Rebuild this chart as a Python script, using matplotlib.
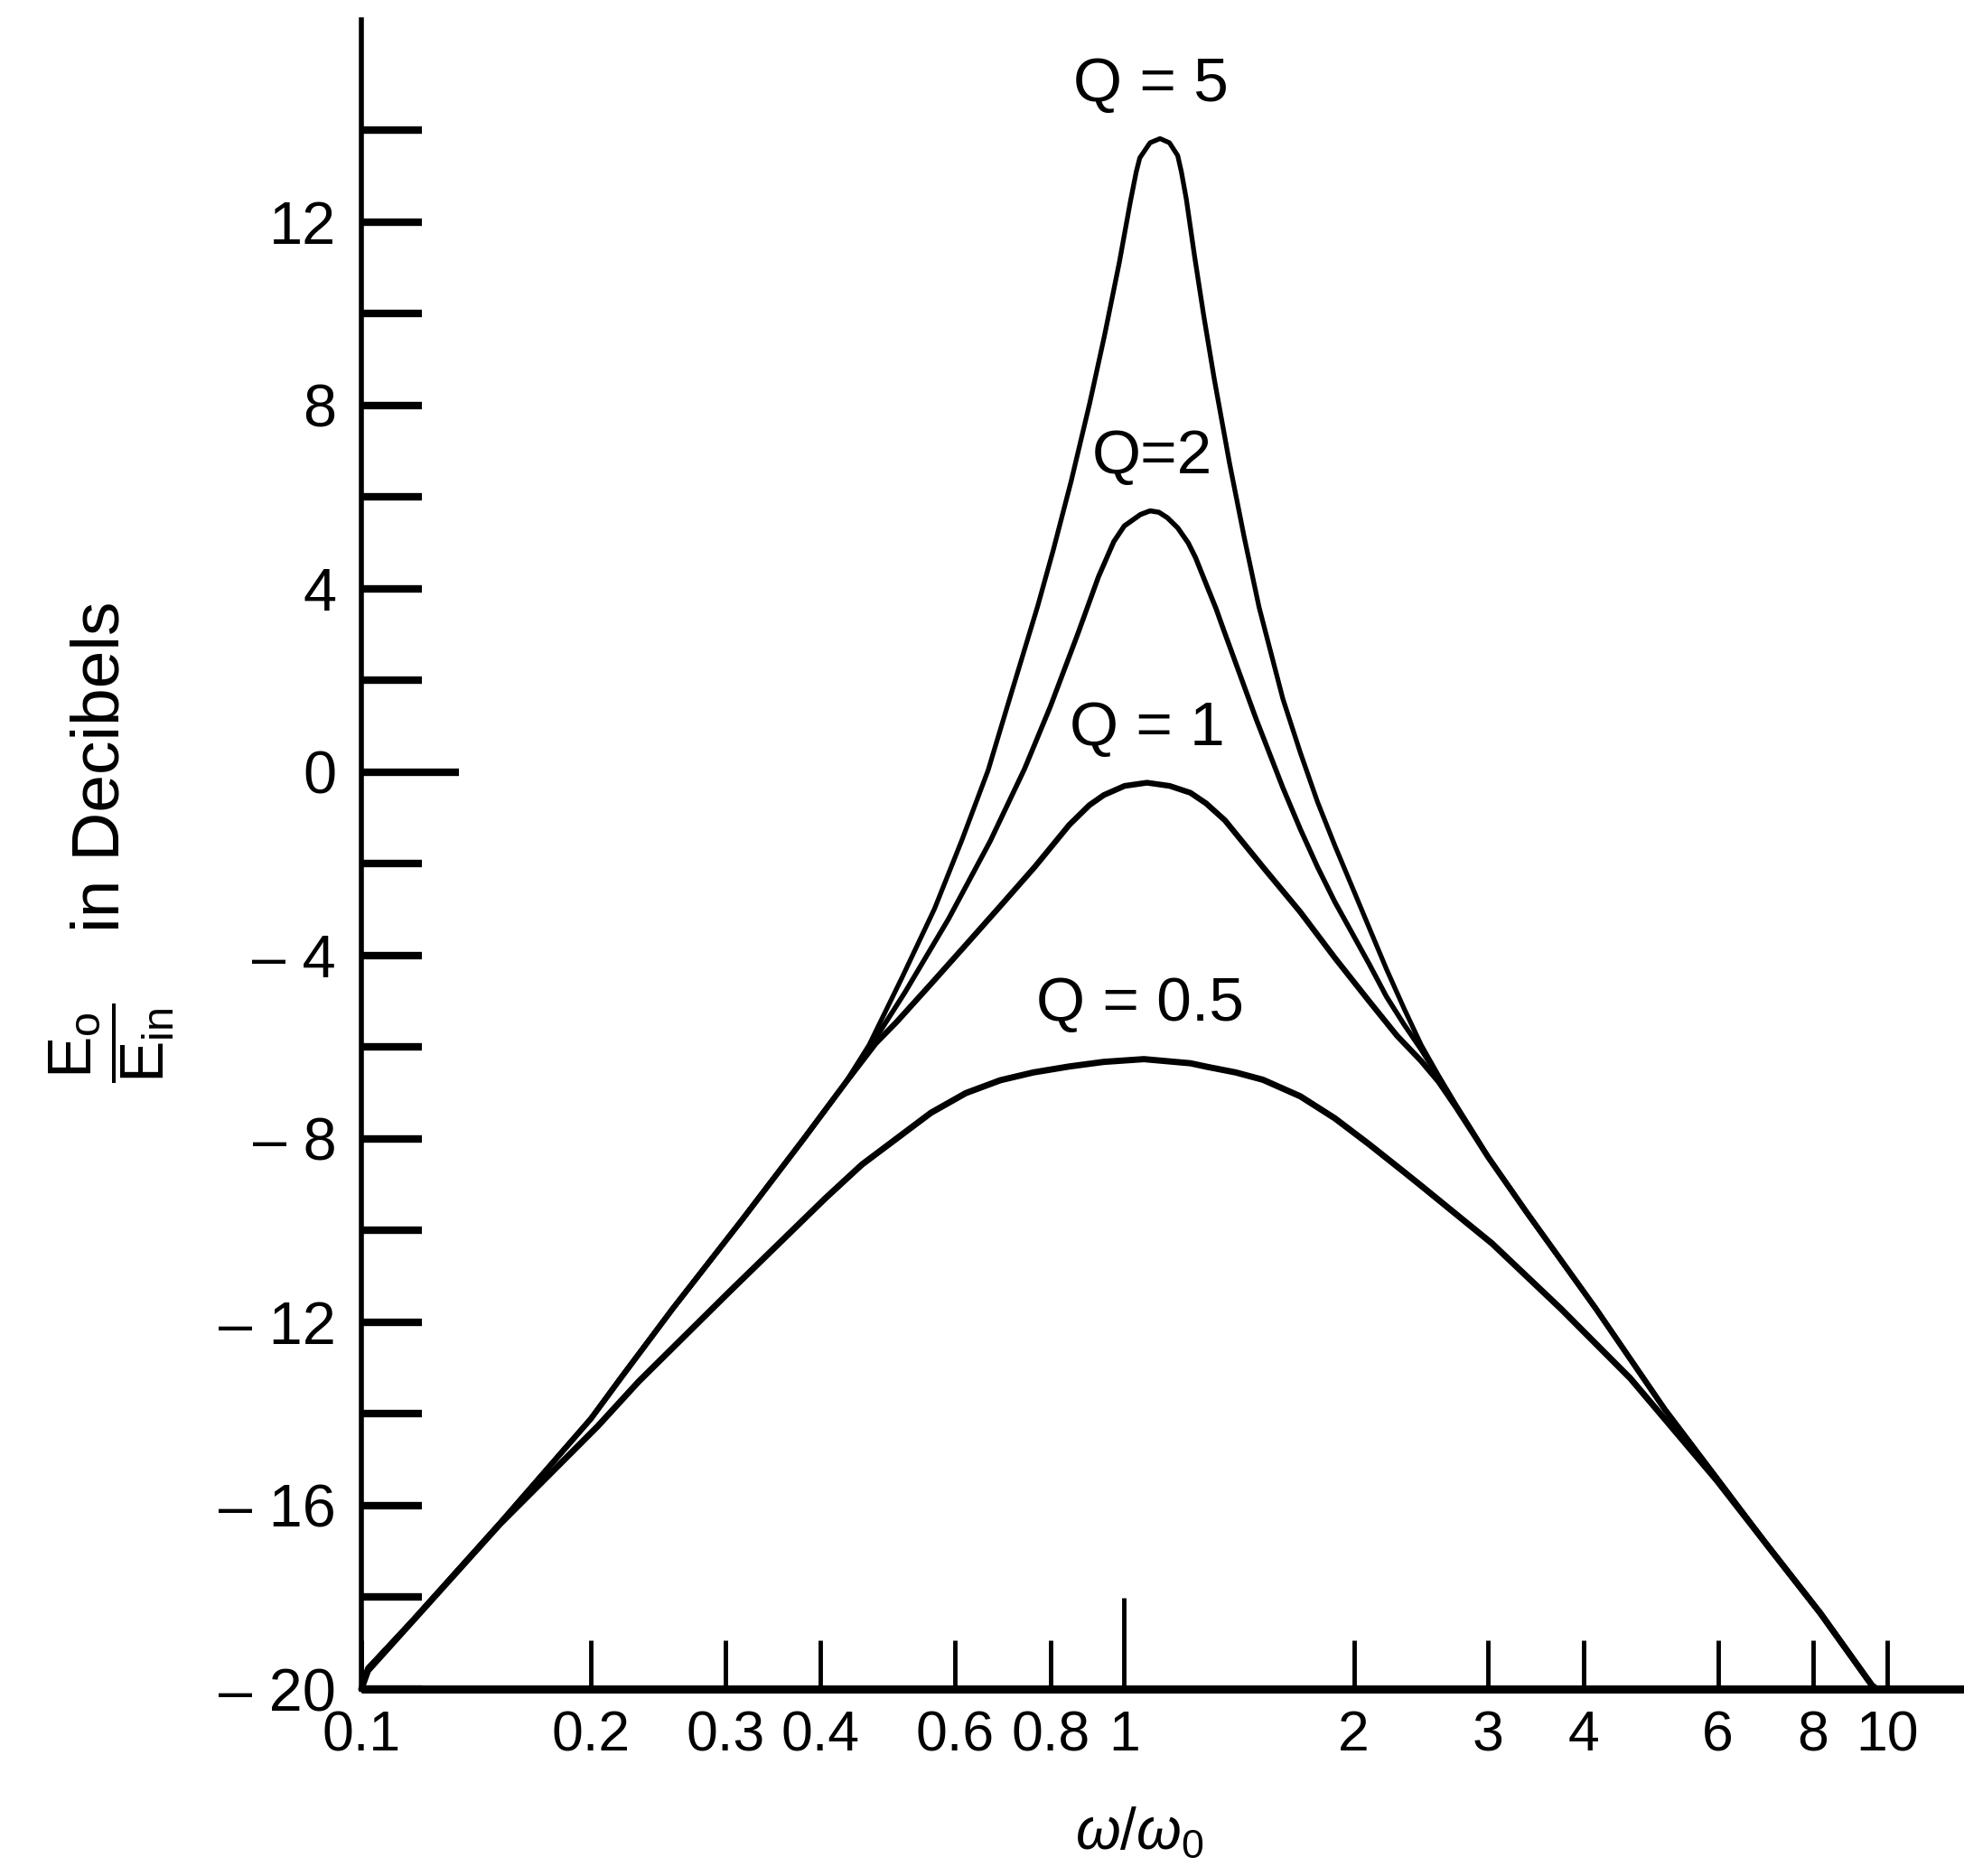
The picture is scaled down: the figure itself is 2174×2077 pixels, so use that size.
import matplotlib
matplotlib.use("Agg")
import matplotlib.pyplot as plt
from matplotlib.ticker import FixedLocator, FixedFormatter

plt.rcParams['font.family'] = ['Liberation Sans', 'DejaVu Sans']
plt.rcParams['mathtext.fontset'] = 'custom'
plt.rcParams['mathtext.rm'] = 'Liberation Sans'
plt.rcParams['mathtext.sf'] = 'Liberation Sans'
plt.rcParams['mathtext.it'] = 'Liberation Sans:italic'

# ---- data (omega/omega0, dB) ----
q5_x = [0.1, 0.102, 0.117, 0.152, 0.2, 0.219, 0.256, 0.316, 0.38, 0.43, 0.463, 0.511,
        0.564, 0.613, 0.663, 0.706, 0.770, 0.807, 0.852, 0.901, 0.942, 0.985, 1.019,
        1.037, 1.048, 1.081, 1.114, 1.146, 1.175, 1.188, 1.206, 1.236, 1.271, 1.312,
        1.374, 1.436, 1.502, 1.614, 1.701, 1.792, 1.888, 1.989, 2.095, 2.207,
        2.326, 2.45, 2.582, 2.72, 2.865, 3.0, 3.368, 4.15, 5.111, 5.979, 6.99, 8.177,
        9.561, 9.7]
q5_db = [-20, -19.55, -18.49, -16.38, -14.1, -13.2, -11.7, -9.75, -8.0, -6.8, -5.95, -4.49,
         -2.98, -1.47, 0.04, 1.55, 3.62, 4.84, 6.35, 8.05, 9.52, 11.11, 12.46,
         13.1, 13.4, 13.73, 13.82, 13.73, 13.45, 13.1, 12.5, 11.27, 9.96, 8.58,
         6.74, 5.13, 3.6, 1.6, 0.43, -0.65, -1.6, -2.5, -3.4, -4.3,
         -5.15, -5.95, -6.62, -7.25, -7.85, -8.4, -9.6, -11.7, -13.9, -15.4, -16.9, -18.35,
         -19.93, -20]

q2_x = [0.1, 0.102, 0.117, 0.152, 0.2, 0.219, 0.256, 0.316, 0.38, 0.43, 0.465, 0.516,
        0.588, 0.667, 0.740, 0.800, 0.868, 0.925, 0.969, 1.0, 1.05, 1.081, 1.11, 1.139,
        1.175, 1.213, 1.24, 1.265, 1.319, 1.350, 1.488, 1.614, 1.701, 1.792, 1.888, 1.989,
        2.095, 2.207, 2.326, 2.45, 2.582, 2.72, 2.865, 3.0, 3.368, 4.15, 5.111, 5.979,
        6.99, 8.177, 9.561, 9.7]
q2_db = [-20, -19.55, -18.49, -16.38, -14.1, -13.2, -11.7, -9.75, -8.0, -6.8, -5.98, -4.8,
         -3.21, -1.51, 0.07, 1.43, 2.99, 4.26, 5.03, 5.37, 5.62, 5.7, 5.67, 5.55,
         5.33, 5.0, 4.68, 4.32, 3.57, 3.1, 1.17, -0.34, -1.24, -2.07, -2.83, -3.51,
         -4.19, -4.9, -5.5, -6.05, -6.65, -7.27, -7.87, -8.4, -9.6, -11.7, -13.9, -15.4,
         -16.9, -18.35, -19.93, -20]

q1_x = [0.1, 0.102, 0.117, 0.152, 0.2, 0.219, 0.256, 0.316, 0.38, 0.43, 0.472, 0.503,
        0.558, 0.619, 0.688, 0.763, 0.847, 0.90, 0.940, 1.001, 1.071, 1.147, 1.221, 1.28,
        1.355, 1.520, 1.701, 1.888, 2.095, 2.278, 2.45, 2.582, 2.72, 2.865, 3.0, 3.368,
        4.15, 5.111, 5.979, 6.99, 8.177, 9.561, 9.7]
q1_db = [-20, -19.55, -18.49, -16.38, -14.1, -13.21, -11.7, -9.75, -8.0, -6.8, -5.92, -5.45,
         -4.62, -3.78, -2.92, -2.07, -1.15, -0.72, -0.5, -0.30, -0.23, -0.30, -0.45, -0.68,
         -1.05, -2.07, -3.05, -4.05, -5.0, -5.75, -6.3, -6.75, -7.3, -7.88, -8.4, -9.6,
         -11.7, -13.9, -15.4, -16.9, -18.35, -19.93, -20]

q05_x = [0.1, 0.102, 0.117, 0.152, 0.204, 0.231, 0.303, 0.406, 0.453, 0.558, 0.62, 0.688,
         0.76, 0.847, 0.940, 1.061, 1.221, 1.286, 1.4, 1.520, 1.701, 1.888, 2.095, 2.326,
         2.462, 3.034, 3.738, 4.604, 5.165, 5.979, 6.99, 8.177, 9.561, 9.7]
q05_db = [-20, -19.6, -18.5, -16.4, -14.27, -13.29, -11.35, -9.29, -8.56, -7.43, -7.0, -6.72,
          -6.55, -6.42, -6.32, -6.26, -6.35, -6.43, -6.55, -6.71, -7.07, -7.55, -8.12, -8.72,
          -9.05, -10.28, -11.71, -13.22, -14.2, -15.45, -16.9, -18.35, -19.93, -20]

curve_labels = ["Q = 5", "Q=2", "Q = 1", "Q = 0.5"]
label_x = [1.085, 1.087, 1.071, 1.049]
label_db = [15.0, 6.88, 0.95, -5.07]

y_label_vals = [-20, -16, -12, -8, -4, 4, 8, 12]
y_label_text = ["\u2013 20", "\u2013 16", "\u2013 12", "\u2013 8", "\u2013 4", "4", "8", "12"]
y_minor_ticks = [-20, -18, -16, -14, -12, -10, -8, -6, -4, -2, 2, 4, 6, 8, 10, 12, 14]
x_minor_ticks = [0.1, 0.2, 0.3, 0.4, 0.6, 0.8, 2, 3, 4, 6, 8, 10]
x_minor_text = ["0.1", "0.2", "0.3", "0.4", "0.6", "0.8", "2", "3", "4", "6", "8", "10"]

# ---- figure ----
W, H = 2174, 2077
fig = plt.figure(figsize=(W / 100, H / 100), dpi=100)
ax = fig.add_axes([400 / W, 1 - 1870 / H, 1774 / W, (1870 - 22) / H])
ax.set_xscale('log')
ax.set_xlim(0.1, 12.61)
ax.set_ylim(-20, 16.41)

for xs, ys, lw in [(q5_x, q5_db, 3.8), (q2_x, q2_db, 4.0), (q1_x, q1_db, 4.6), (q05_x, q05_db, 5.0)]:
    ax.plot(xs, ys, color='black', lw=lw, solid_joinstyle='round', solid_capstyle='round',
            clip_on=False, zorder=3)

for t, x, y in zip(curve_labels, label_x, label_db):
    ax.text(x, y, t, fontsize=50, ha='center', va='center', color='black')

for s in ['top', 'right']:
    ax.spines[s].set_visible(False)
ax.spines['left'].set_linewidth(4)
ax.spines['bottom'].set_linewidth(6.5)
ax.spines['bottom'].set_capstyle('butt')

# y ticks
ax.yaxis.set_major_locator(FixedLocator([0]))
ax.yaxis.set_major_formatter(FixedFormatter(["0"]))
ax.yaxis.set_minor_locator(FixedLocator(y_minor_ticks))
ylab = [y_label_text[y_label_vals.index(v)] if v in y_label_vals else "" for v in y_minor_ticks]
ax.yaxis.set_minor_formatter(FixedFormatter(ylab))
ax.tick_params(axis='y', which='major', direction='in', length=78, width=6, pad=20, labelsize=48)
ax.tick_params(axis='y', which='minor', direction='in', length=48, width=6, pad=20, labelsize=48)

# x ticks
ax.xaxis.set_major_locator(FixedLocator([1]))
ax.xaxis.set_major_formatter(FixedFormatter(["1"]))
ax.xaxis.set_minor_locator(FixedLocator(x_minor_ticks))
ax.xaxis.set_minor_formatter(FixedFormatter(x_minor_text))
ax.tick_params(axis='x', which='major', direction='in', length=73, width=3.5, pad=16, labelsize=45)
ax.tick_params(axis='x', which='minor', direction='in', length=39, width=3.5, pad=16, labelsize=45)

# axis titles
fig.text(1261 / W, 1 - 2030 / H, r'$\omega/\omega_0$', fontsize=46, ha='center', va='center')
fig.text(112 / W, 1 - 849 / H, 'in Decibels', fontsize=54, rotation=90, ha='center', va='center')
fig.text(124 / W, 1 - 1155 / H, r'$\dfrac{\mathrm{E_o}}{\mathrm{E_{in}}}$', fontsize=50,
         rotation=90, ha='center', va='center')

fig.savefig('out.png', dpi=100, facecolor='white')
